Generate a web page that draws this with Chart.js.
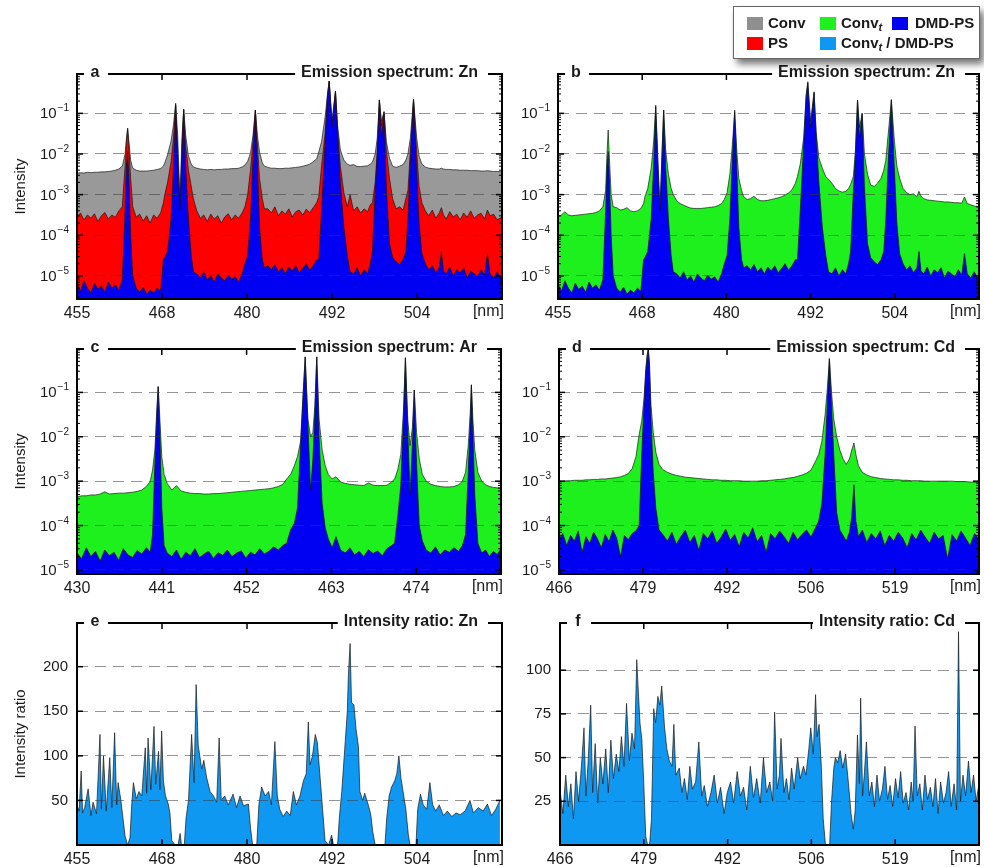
<!DOCTYPE html>
<html lang="en">
<head>
<meta charset="UTF-8">
<title>Emission spectra</title>
<style>
  body {
    margin: 0;
    width: 984px;
    height: 867px;
    position: relative;
    overflow: hidden;
    background: #fff;
    font-family: 'Liberation Sans', Arial, sans-serif;
  }
  canvas.panel { position: absolute; }
  .legend {
    position: absolute;
    left: 733px; top: 6px;
    width: 245px; height: 51px;
    background: #fff;
    border: 1px solid #666;
    box-shadow: 4px 5px 7px rgba(0,0,0,0.55);
    z-index: 5;
    color: #1a1a1a;
  }
  .sw { position: absolute; width: 16px; height: 13px; }
  .lt { position: absolute; font-weight: bold; font-size: 15px; line-height: 18px; white-space: nowrap; }
  .lt sub { font-size: 11px; font-style: italic; vertical-align: -3px; line-height: 0; }
</style>
</head>
<body>

<div class="legend">
  <span class="sw" style="left:13px;top:10px;background:#8f8f8f"></span><span class="lt" style="left:34px;top:7px">Conv</span>
  <span class="sw" style="left:86px;top:10px;background:#1ef01e"></span><span class="lt" style="left:107px;top:7px">Conv<sub>t</sub></span>
  <span class="sw" style="left:158px;top:10px;background:#0000f2"></span><span class="lt" style="left:181px;top:7px">DMD-PS</span>
  <span class="sw" style="left:13px;top:30px;background:#ff0000"></span><span class="lt" style="left:34px;top:27px">PS</span>
  <span class="sw" style="left:86px;top:30px;background:#0f98f2"></span><span class="lt" style="left:107px;top:27px">Conv<sub>t</sub> / DMD-PS</span>
</div>

<canvas id="cA" class="panel" width="512" height="262" style="left:0;top:60px"></canvas>
<canvas id="cB" class="panel" width="484" height="262" style="left:500px;top:60px"></canvas>
<canvas id="cC" class="panel" width="512" height="262" style="left:0;top:335px"></canvas>
<canvas id="cD" class="panel" width="484" height="262" style="left:500px;top:335px"></canvas>
<canvas id="cE" class="panel" width="512" height="262" style="left:0;top:605px"></canvas>
<canvas id="cF" class="panel" width="484" height="262" style="left:500px;top:605px"></canvas>

<script src="https://cdn.jsdelivr.net/npm/chart.js"></script>
<script>
// ---- Zn spectrum (panels a, b): wavelength in nm, intensities as log10 ----
const xZn = [455, 455.5, 456, 456.5, 457, 457.5, 458, 458.5, 459, 459.5, 460, 460.5, 461, 461.5,
  461.9, 462.1, 462.27, 462.45, 462.7, 463.0,
  463.5, 464, 464.5, 465, 465.5, 466, 466.5, 467, 467.4,
  467.6, 468.0, 468.5, 468.85, 469.16, 469.45, 469.78, 470.05, 470.31, 470.6, 471.0, 471.4, 471.7,
  472.2, 472.7, 473.2, 473.7, 474.2, 474.7, 475.2, 475.7, 476.2, 476.7, 477.2, 477.7, 478.2, 478.7, 479.1,
  479.5, 479.9, 480.25, 480.6, 480.9, 481.2, 481.6, 481.9,
  482.4, 482.9, 483.4, 483.9, 484.4, 484.9, 485.4, 485.9, 486.4, 486.9, 487.4, 487.9, 488.4, 488.9, 489.4,
  489.7, 490.1, 490.6, 490.95, 491.2, 491.6, 492.1, 492.4, 492.8, 493.3, 493.8,
  494.2, 494.7, 495.2, 495.7, 496.2, 496.7, 497.1,
  497.4, 497.8, 498.1, 498.4, 498.7, 499.07, 499.4, 499.85, 500.3,
  500.8, 501.3, 501.8, 502.2,
  502.5, 502.85, 503.3, 503.75, 504.1, 504.5,
  505, 505.5, 506, 506.5, 507, 507.3, 507.6, 508, 508.5, 509, 509.5, 510, 510.5, 511, 511.5, 512, 512.5, 513, 513.5, 513.9, 514.3, 514.8, 515.3, 516];

const convZn = [-2.47, -2.46, -2.47, -2.45, -2.46, -2.45, -2.45, -2.44, -2.44, -2.43, -2.42, -2.40, -2.37, -2.30,
  -2.0, -1.6, -1.37, -1.7, -2.15, -2.35,
  -2.40, -2.42, -2.42, -2.42, -2.41, -2.40, -2.38, -2.36, -2.30,
  -2.22, -2.02, -1.68, -1.28, -0.75, -1.55, -3.2, -1.65, -0.90, -1.55, -2.05, -2.25, -2.32,
  -2.35, -2.37, -2.38, -2.39, -2.38, -2.39, -2.38, -2.38, -2.37, -2.37, -2.36, -2.36, -2.35, -2.32, -2.27,
  -2.18, -1.98, -1.55, -0.92, -1.55, -1.95, -2.22, -2.30,
  -2.33, -2.35, -2.35, -2.36, -2.36, -2.35, -2.35, -2.34, -2.33, -2.32, -2.30, -2.28, -2.25, -2.19, -2.12,
  -1.95, -1.7, -1.1, -0.55, -0.2, -1.2, -0.45, -1.3, -1.9, -2.15, -2.25,
  -2.28, -2.26, -2.31, -2.31, -2.30, -2.29, -2.25,
  -2.2, -2.0, -1.6, -0.67, -1.2, -0.96, -1.7, -2.1, -2.3,
  -2.33, -2.30, -2.26, -2.15,
  -2.0, -1.6, -0.66, -1.6, -2.05, -2.25,
  -2.32, -2.35, -2.36, -2.37, -2.37, -2.35, -2.37, -2.38, -2.38, -2.39, -2.39, -2.40, -2.40, -2.40, -2.41, -2.41, -2.41, -2.42, -2.42, -2.41, -2.42, -2.43, -2.43, -2.44];

const psZn = [-3.55, -3.45, -3.62, -3.50, -3.58, -3.47, -3.66, -3.52, -3.44, -3.60, -3.50, -3.56, -3.40, -3.30,
  -2.3, -1.7, -1.37, -1.8, -2.6, -3.3,
  -3.55, -3.48, -3.65, -3.52, -3.70, -3.50, -3.58, -3.45, -3.20,
  -3.0, -2.7, -2.2, -1.6, -0.78, -1.9, -3.3, -1.9, -0.90, -1.8, -2.4, -2.8, -3.1,
  -3.40, -3.58, -3.50, -3.66, -3.48, -3.60, -3.52, -3.70, -3.55, -3.47, -3.62, -3.50, -3.58, -3.45, -3.30,
  -3.0, -2.4, -1.7, -0.92, -1.8, -2.6, -3.1, -3.35,
  -3.35, -3.45, -3.30, -3.52, -3.40, -3.48, -3.35, -3.55, -3.42, -3.38, -3.50, -3.36, -3.44, -3.32, -3.20,
  -3.05, -2.3, -1.5, -0.55, -0.2, -1.3, -0.45, -1.4, -2.3, -2.95, -3.3,
  -3.0, -3.40, -3.30, -3.45, -3.35, -3.42, -3.25,
  -3.2, -2.7, -1.9, -0.67, -1.3, -0.96, -1.9, -2.6, -3.1,
  -3.35, -3.30, -3.38, -3.1,
  -2.9, -1.9, -0.66, -1.9, -2.8, -3.2,
  -3.40, -3.52, -3.38, -3.58, -3.45, -3.32, -3.50, -3.60, -3.42, -3.55, -3.48, -3.62, -3.45, -3.56, -3.40, -3.58, -3.50, -3.46, -3.60, -3.38, -3.52, -3.48, -3.62, -3.55];

const dmdZn = [-5.20, -5.38, -5.12, -5.30, -5.42, -5.18, -5.33, -5.25, -5.40, -5.15, -5.30, -5.22, -5.35, -5.10,
  -3.4, -2.3, -1.94, -2.6, -4.0, -5.0,
  -5.30, -5.40, -5.28, -5.45, -5.35, -5.42, -5.30, -5.38, -4.60,
  -4.55, -4.40, -3.6, -2.3, -0.80, -2.2, -3.38, -2.2, -0.92, -2.3, -3.6, -4.5, -4.9,
  -4.95, -5.05, -4.90, -5.10, -5.00, -5.15, -4.95, -5.05, -5.12, -4.98, -5.08, -5.02, -5.15, -4.95, -4.70,
  -4.5, -3.6, -2.2, -0.92, -2.3, -3.8, -4.6, -4.8,
  -4.75, -4.85, -4.72, -4.90, -4.80, -4.95, -4.78, -4.88, -4.75, -4.92, -4.82, -4.70, -4.86, -4.75, -4.60,
  -4.6, -3.4, -1.75, -0.6, -0.22, -1.33, -0.47, -1.5, -2.7, -3.8, -4.5,
  -4.9, -4.95, -4.80, -5.0, -4.85, -4.95, -4.7,
  -4.4, -2.9, -2.0, -0.67, -1.6, -1.0, -2.8, -4.2, -4.55,
  -4.65, -4.72, -4.6, -4.4,
  -3.6, -2.2, -0.66, -2.4, -3.7, -4.45,
  -4.70, -4.85, -4.75, -4.92, -4.80, -4.40, -4.88, -4.95, -4.78, -5.00, -4.85, -4.92, -4.80, -5.05, -4.88, -4.95, -5.02, -4.85, -4.98, -4.45, -4.95, -5.05, -4.90, -5.10];

const convtZn = [-3.54, -3.50, -3.42, -3.50, -3.52, -3.51, -3.50, -3.49, -3.48, -3.47, -3.46, -3.44, -3.40, -3.30,
  -2.9, -2.0, -1.41, -2.1, -3.0, -3.3,
  -3.32, -3.38, -3.36, -3.32, -3.40, -3.42, -3.40, -3.34, -3.22,
  -3.05, -2.85, -2.35, -1.70, -0.84, -2.0, -3.38, -2.0, -0.92, -1.9, -2.5, -2.85, -3.0,
  -3.15, -3.22, -3.26, -3.30, -3.33, -3.34, -3.34, -3.34, -3.33, -3.32, -3.31, -3.30, -3.27, -3.22, -3.12,
  -2.95, -2.5, -1.8, -0.96, -1.9, -2.6, -2.9, -3.05,
  -3.12, -3.10, -3.04, -3.12, -3.15, -3.15, -3.14, -3.12, -3.10, -3.08, -3.05, -3.01, -2.96, -2.88, -2.72,
  -2.55, -2.25, -1.6, -0.55, -0.25, -1.2, -0.49, -1.45, -2.1, -2.35, -2.56,
  -2.62, -2.72, -2.85, -2.91, -2.94, -2.92, -2.85,
  -2.75, -2.55, -1.9, -0.67, -1.35, -1.0, -2.0, -2.5, -2.76,
  -2.8, -2.72, -2.6, -2.4,
  -2.15, -1.5, -0.67, -1.7, -2.3, -2.6,
  -2.85, -2.95, -3.0, -2.98, -3.05, -2.92, -3.04, -3.1, -3.13, -3.14, -3.15, -3.16, -3.17, -3.18, -3.18, -3.19, -3.2, -3.2, -3.21, -3.06, -3.22, -3.25, -3.28, -3.30];

// ---- Ar spectrum (panel c) ----
const xAr = [430, 430.6, 431.2, 431.8, 432.4, 433.0, 433.6, 434.2, 434.8, 435.4, 436.0, 436.6, 437.2, 437.8, 438.4, 439.0, 439.5,
  439.8, 440.1, 440.35, 440.53, 440.75, 441.0, 441.3,
  441.7, 442.3, 442.9, 443.5, 444.1, 444.7, 445.3, 445.9, 446.5, 447.1, 447.7, 448.3, 448.9, 449.5, 450.1, 450.7, 451.3, 451.9, 452.5, 453.1, 453.7, 454.3, 454.9, 455.5, 456.1, 456.7, 457.2,
  457.7, 458.2, 458.6, 459.0, 459.3, 459.6, 459.95, 460.3, 460.6, 460.85, 461.1, 461.4, 461.8, 462.2, 462.6,
  463.1, 463.6, 464.2, 464.8, 465.4, 466.0, 466.6, 467.2, 467.8, 468.4, 469.0, 469.6, 470.2, 470.8, 471.2,
  471.6, 472.0, 472.35, 472.6, 472.9, 473.2, 473.5, 473.75, 474.05, 474.4, 474.8,
  475.3, 475.9, 476.5, 477.1, 477.7, 478.3, 478.9, 479.5, 480.0,
  480.4, 480.75, 481.0, 481.16, 481.35, 481.6, 482.0,
  482.5, 483.0, 483.5, 484.0, 484.5, 485.0];

const convtAr = [-3.35, -3.33, -3.33, -3.31, -3.31, -3.29, -3.24, -3.29, -3.28, -3.27, -3.27, -3.26, -3.25, -3.23, -3.20, -3.12, -3.0,
  -2.75, -2.3, -1.4, -0.87, -1.6, -2.45, -2.85,
  -3.05, -3.2, -3.1, -3.22, -3.25, -3.27, -3.28, -3.28, -3.29, -3.29, -3.28, -3.28, -3.27, -3.26, -3.25, -3.24, -3.23, -3.22, -3.21, -3.20, -3.19, -3.18, -3.17, -3.15, -3.12, -3.07, -2.95,
  -2.85, -2.65, -2.45, -2.1, -1.1, -0.2, -1.6, -2.0, -1.9, -1.3, -0.2, -1.6, -2.3, -2.65, -2.85,
  -2.95, -2.9, -3.02, -3.05, -3.07, -3.08, -3.09, -3.10, -3.04, -3.09, -3.1, -3.1, -3.09, -3.02, -2.95,
  -2.75, -2.4, -1.4, -0.22, -1.6, -2.2, -1.8, -0.95, -1.9, -2.5, -2.85,
  -3.0, -3.07, -3.1, -3.12, -3.13, -3.13, -3.12, -3.08, -3.0,
  -2.8, -2.2, -1.5, -0.83, -1.6, -2.3, -2.8,
  -3.0, -3.08, -3.12, -3.14, -3.15, -3.16];

const dmdAr = [-4.62, -4.75, -4.50, -4.70, -4.58, -4.80, -4.55, -4.68, -4.60, -4.78, -4.52, -4.66, -4.72, -4.56, -4.64, -4.50, -4.60,
  -4.2, -2.6, -1.5, -0.87, -1.9, -3.6, -4.45,
  -4.62, -4.70, -4.55, -4.76, -4.60, -4.68, -4.52, -4.72, -4.64, -4.58, -4.74, -4.61, -4.67, -4.55, -4.70, -4.62, -4.57, -4.73, -4.60, -4.66, -4.52, -4.64, -4.58, -4.48, -4.55, -4.45, -4.40,
  -4.1, -3.95, -3.6, -2.2, -1.2, -0.2, -1.7, -3.2, -2.5, -1.5, -0.2, -2.0, -3.5, -4.05, -4.3,
  -4.50, -4.25, -4.55, -4.62, -4.50, -4.66, -4.58, -4.70, -4.54, -4.63, -4.57, -4.68, -4.52, -4.45, -4.40,
  -3.8, -3.1, -1.6, -0.22, -1.8, -3.3, -2.2, -0.95, -2.6, -4.0, -4.35,
  -4.55, -4.62, -4.48, -4.66, -4.55, -4.60, -4.50, -4.58, -4.45,
  -4.2, -2.8, -1.7, -0.83, -1.9, -3.3, -4.4,
  -4.62, -4.55, -4.70, -4.58, -4.65, -4.52];

// ---- Cd spectrum (panel d) ----
const xCd = [466.0, 466.6, 467.2, 467.8, 468.4, 469.0, 469.6, 470.2, 470.8, 471.4, 472.0, 472.6, 473.2, 473.8, 474.4, 475.0, 475.6, 476.2, 476.8, 477.4, 478.0, 478.5,
  478.9, 479.25, 479.55, 479.75, 479.92, 480.1, 480.35, 480.7, 481.1, 481.6,
  482.2, 482.9, 483.6, 484.3, 485.0, 485.7, 486.4, 487.1, 487.8, 488.5, 489.2, 489.9, 490.6, 491.3, 492.0, 492.7, 493.4, 494.1, 494.8, 495.5, 496.2, 496.9, 497.6, 498.3, 499.0, 499.7, 500.4, 501.1, 501.8, 502.5, 503.2, 503.9, 504.6, 505.3, 506.0,
  506.5, 507.0, 507.5, 507.85, 508.17, 508.5, 508.85, 509.3, 509.8,
  510.3, 510.8, 511.3,
  511.65, 512.0, 512.3,
  512.7, 513.3, 514.0, 514.7, 515.4, 516.1, 516.8, 517.5, 518.2, 518.9, 519.6, 520.3, 521.0, 521.7, 522.4, 523.1, 523.8, 524.5, 525.2, 525.9, 526.6, 527.3, 528.0, 528.7, 529.4, 530.1, 530.8, 531.5];

const convtCd = [-3.0, -3.0, -2.99, -2.99, -2.98, -2.98, -2.98, -2.97, -2.97, -2.96, -2.96, -2.95, -2.95, -2.94, -2.93, -2.92, -2.90, -2.87, -2.83, -2.72, -2.45, -1.95,
  -1.65, -1.15, -0.45, -0.15, -0.02, -0.3, -1.3, -1.9, -2.35, -2.62,
  -2.74, -2.8, -2.84, -2.87, -2.89, -2.91, -2.92, -2.93, -2.94, -2.95, -2.96, -2.97, -2.97, -2.98, -2.98, -2.99, -2.99, -2.99, -3.0, -3.0, -3.0, -3.0, -2.99, -2.99, -2.98, -2.97, -2.96, -2.95, -2.93, -2.92, -2.89, -2.86, -2.82, -2.75, -2.55,
  -2.4, -2.1, -1.5, -0.9, -0.24, -1.0, -1.6, -2.0, -2.3,
  -2.5, -2.62, -2.5,
  -2.3, -2.14, -2.4,
  -2.65, -2.8, -2.86, -2.9, -2.92, -2.94, -2.95, -2.96, -2.97, -2.97, -2.98, -2.98, -2.99, -2.99, -2.99, -3.0, -3.0, -3.0, -3.0, -3.0, -3.0, -3.0, -3.01, -3.01, -3.01, -3.02, -3.02, -3.02];

const dmdCd = [-4.30, -4.18, -4.45, -4.22, -4.35, -4.12, -4.60, -4.25, -4.40, -4.15, -4.30, -4.50, -4.20, -4.36, -4.10, -4.28, -4.70, -4.22, -4.32, -4.18, -4.12, -4.0,
  -2.4, -1.3, -0.5, -0.2, -0.02, -0.4, -1.6, -2.8, -3.6, -4.1,
  -4.20, -4.35, -4.15, -4.42, -4.25, -4.10, -4.38, -4.22, -4.55, -4.18, -4.30, -4.12, -4.40, -4.26, -4.08, -4.33, -4.20, -4.48, -4.15, -4.28, -4.05, -4.36, -4.22, -4.60, -4.18, -4.30, -4.12, -4.25, -4.40, -4.15, -4.32, -4.20, -4.10, -4.26, -4.05,
  -3.9, -3.5, -2.4, -1.2, -0.24, -1.3, -2.4, -3.7, -4.1,
  -4.22, -4.35, -4.15,
  -3.8, -3.08, -3.9,
  -4.25, -4.10, -4.38, -4.18, -4.30, -4.12, -4.45, -4.22, -4.35, -4.15, -4.28, -4.50, -4.18, -4.32, -4.10, -4.26, -4.40, -4.15, -4.30, -4.22, -4.75, -4.20, -4.35, -4.12, -4.28, -4.45, -4.18, -4.30];

// ---- intensity ratios Conv_t / DMD-PS (panels e, f) ----
const xRatioZn = [455.0, 455.3, 455.6, 455.8, 456.1, 456.6, 457.0, 457.3, 457.8, 458.3,
  458.5, 458.8, 459.2, 459.7, 460.0, 460.4, 460.7, 460.9, 461.3, 461.6,
  461.9, 462.27, 462.6, 462.85, 463.1, 463.5, 463.9, 464.3, 464.8, 465.0,
  465.2, 465.6, 466.05, 466.3, 466.7, 466.9, 467.15, 467.4, 467.7, 468.1,
  468.35, 468.6, 469.1, 469.5, 469.8, 470.0, 470.4, 470.65, 471.0, 471.45,
  471.8, 472.1, 472.4, 472.9, 473.2, 473.6, 474.1, 474.6, 475.05, 475.4,
  475.7, 476.2, 476.7, 477.4, 477.9, 478.4, 478.9, 479.6, 479.9, 480.2,
  480.8, 481.1, 481.5, 482.0, 482.5, 482.9, 483.4, 483.75, 484.1, 484.6,
  485.1, 485.6, 486.05, 486.5, 487.0, 487.5, 487.9, 488.2, 488.45, 488.8,
  489.2, 489.5, 489.9, 490.25, 490.6, 491.1, 491.55, 491.8, 492.4, 492.65,
  493.0, 493.5, 493.8, 493.95, 494.2, 494.4, 494.75, 495.05, 495.4, 495.6,
  496.0, 496.3, 496.8, 497.15, 497.45, 497.8, 499.2, 499.45, 499.8, 500.15,
  500.6, 500.9, 501.2, 501.5, 501.8, 502.2, 502.55, 502.8, 503.65, 503.9,
  504.3, 504.7, 505.2, 505.65, 506.05, 506.5, 507.0, 507.6, 508.15, 508.8,
  509.4, 510.0, 510.7, 511.4, 511.9, 512.6, 513.3, 513.9, 514.5, 515.1,
  515.7];

const ratioZn = [45, 38, 83, 36, 42, 63, 33, 48, 35, 124,
  40, 100, 38, 98, 42, 126, 45, 70, 50, 30,
  10, 0, 8, 45, 70, 52, 60, 55, 109, 58,
  120, 62, 133, 68, 105, 62, 128, 72, 55, 46,
  35, 5, 0, 0, 13, 0, 0, 30, 50, 124,
  70, 180, 112, 85, 95, 76, 60, 55, 48, 120,
  50, 55, 45, 57, 42, 55, 44, 46, 20, 0,
  0, 45, 65, 55, 60, 45, 116, 55, 40, 32,
  38, 33, 60, 45, 55, 72, 80, 138, 90, 100,
  124, 115, 75, 40, 5, 0, 11, 0, 0, 30,
  60, 116, 150, 190, 226, 160, 157, 130, 110, 60,
  50, 58, 45, 35, 15, 0, 0, 30, 55, 65,
  72, 80, 100, 75, 60, 40, 12, 0, 0, 40,
  57, 45, 40, 70, 45, 38, 45, 33, 38, 32,
  36, 34, 38, 50, 36, 42, 38, 46, 33, 40,
  50];

const xRatioCd = [466.05, 466.45, 466.9, 467.3, 467.7, 468.1, 468.5, 468.9, 469.35, 469.75,
  470.05, 470.4, 470.8, 471.1, 471.5, 471.9, 472.3, 472.7, 473.15, 473.55,
  473.95, 474.35, 474.8, 475.2, 475.6, 476.0, 476.4, 476.85, 477.25, 477.65,
  478.0, 478.2, 478.5, 478.8, 479.1, 479.4, 479.7, 480.0, 480.3, 480.65,
  480.95, 481.3, 481.6, 481.9, 482.35, 482.7, 483.1, 483.5, 483.8, 484.1,
  484.65, 485.05, 485.45, 485.9, 486.3, 486.7, 487.2, 487.7, 488.15, 488.55,
  489.05, 489.6, 490.1, 490.6, 491.1, 491.65, 492.15, 492.65, 493.15, 493.7,
  494.2, 494.7, 495.2, 495.75, 496.25, 496.75, 497.3, 497.8, 498.3, 498.8,
  499.25, 499.55, 499.95, 500.3, 500.55, 501.0, 501.4, 501.8, 502.2, 502.6,
  503.15, 503.55, 504.05, 504.45, 504.9, 505.2, 505.6, 505.95, 506.2, 506.5,
  506.85, 507.15, 507.5, 508.15, 508.45, 508.8, 509.05, 509.4, 509.8, 510.2,
  510.65, 511.1, 511.5, 511.85, 512.15, 512.5, 512.8, 513.0, 513.3, 513.6,
  513.9, 514.35, 514.75, 515.15, 515.55, 515.95, 516.4, 516.8, 517.2, 517.6,
  518.0, 518.45, 518.85, 519.25, 519.65, 520.1, 520.5, 520.9, 521.2, 521.5,
  521.85, 522.25, 522.65, 523.05, 523.45, 523.9, 524.3, 524.7, 525.1, 525.5,
  525.95, 526.35, 526.75, 527.15, 527.6, 528.0, 528.3, 528.6, 529.0, 529.4,
  529.85, 530.25, 530.65, 531.05, 531.5];

const ratioCd = [30, 18, 40, 22, 35, 15, 42, 25, 45, 67,
  28, 48, 80, 30, 58, 24, 50, 35, 55, 30,
  60, 38, 52, 42, 62, 45, 81, 48, 64, 55,
  106, 91, 70, 60, 35, 5, 0, 0, 15, 78,
  70, 85, 80, 91, 67, 55, 48, 45, 69, 40,
  44, 30, 38, 26, 45, 32, 36, 59, 28, 34,
  22, 30, 40, 24, 33, 18, 30, 36, 24, 42,
  28, 33, 20, 45, 27, 38, 24, 50, 30, 36,
  25, 76, 32, 40, 61, 30, 38, 26, 44, 32,
  50, 38, 45, 40, 55, 67, 52, 86, 62, 69,
  45, 15, 0, 0, 25, 44, 50, 47, 54, 44,
  52, 35, 18, 9, 20, 63, 35, 84, 28, 42,
  59, 28, 36, 22, 40, 25, 32, 45, 26, 34,
  22, 38, 27, 42, 24, 30, 20, 36, 25, 68,
  28, 35, 20, 40, 26, 33, 22, 38, 18, 36,
  24, 30, 42, 22, 35, 20, 122, 25, 40, 28,
  48, 30, 40, 25, 35];

// ---- axes ----
const ticksZn = [455, 467.2, 479.4, 491.6, 503.8, 516];
const labelsZn = ['455', '468', '480', '492', '504', '[nm]'];
const ticksAr = [430, 441, 452, 463, 474, 485];
const labelsAr = ['430', '441', '452', '463', '474', '[nm]'];
const ticksCd = [466, 479.1, 492.2, 505.3, 518.4, 531.5];
const labelsCd = ['466', '479', '492', '506', '519', '[nm]'];
const logTicks = [1e-5, 1e-4, 1e-3, 1e-2, 1e-1];
const ratioTicksZn = [50, 100, 150, 200];
const ratioTicksCd = [25, 50, 75, 100];

const FONT = "'Liberation Sans', Arial, sans-serif";
Chart.defaults.font.family = FONT;

const COL = { conv: '#999999', ps: '#ff0000', dmd: '#0000f2', convt: '#1ef01e', ratio: '#0f98f2' };

function series(xs, ys, color, log) {
  return {
    data: xs.map((x, i) => ({ x: x, y: log ? Math.pow(10, ys[i]) : ys[i] })),
    backgroundColor: color,
    borderColor: 'rgba(20,20,20,0.85)',
    borderWidth: 0.8,
    fill: 'start',
    pointRadius: 0,
    tension: 0
  };
}

// frame, inward ticks, log labels and the header drawn over the top edge
const frame = {
  id: 'frame',
  afterDraw(chart, args, o) {
    const { ctx, chartArea: a, scales: { x, y } } = chart;
    const seg = (x1, y1, x2, y2) => { ctx.beginPath(); ctx.moveTo(x1, y1); ctx.lineTo(x2, y2); ctx.stroke(); };
    ctx.save();
    ctx.strokeStyle = '#000';
    ctx.lineWidth = 1.5;
    x.ticks.forEach(t => {
      const p = x.getPixelForValue(t.value);
      seg(p, a.bottom, p, a.bottom - 6);
      seg(p, a.top, p, a.top + 6);
    });
    y.ticks.forEach(t => {
      const p = y.getPixelForValue(t.value);
      seg(a.left, p, a.left + 6, p);
      seg(a.right, p, a.right - 6, p);
    });
    ctx.fillStyle = '#1a1a1a';
    if (o.log) {
      ctx.lineWidth = 1;
      for (let e = -6; e <= 0; e++) {
        for (let m = 2; m <= 9; m++) {
          const v = m * Math.pow(10, e);
          if (v < y.min || v > y.max) continue;
          const p = y.getPixelForValue(v);
          seg(a.left, p, a.left + 3, p);
          seg(a.right, p, a.right - 3, p);
        }
      }
      ctx.textAlign = 'left';
      ctx.textBaseline = 'alphabetic';
      y.ticks.forEach(t => {
        const p = y.getPixelForValue(t.value);
        const ex = '\u2212' + Math.round(-Math.log10(t.value));
        ctx.font = '10px ' + FONT;
        const w2 = ctx.measureText(ex).width;
        ctx.font = '15px ' + FONT;
        const w1 = ctx.measureText('10').width;
        const r = a.left - 8;
        ctx.fillText('10', r - w2 - w1 - 1, p + 5);
        ctx.font = '10px ' + FONT;
        ctx.fillText(ex, r - w2, p - 2);
      });
    }
    ctx.lineWidth = 2;
    ctx.strokeRect(a.left, a.top, a.right - a.left, a.bottom - a.top);

    // header
    ctx.font = 'bold 16px ' + FONT;
    const tw = ctx.measureText(o.title).width;
    const tr = a.right - 24;
    ctx.fillStyle = '#fff';
    ctx.fillRect(a.left + 7, a.top - 3, 24, 10);
    ctx.fillRect(tr - tw - 6, a.top - 3, tw + 16, 10);
    ctx.fillStyle = '#1a1a1a';
    ctx.textBaseline = 'middle';
    ctx.textAlign = 'center';
    ctx.fillText(o.letter, a.left + 18, a.top - 1);
    ctx.textAlign = 'right';
    ctx.fillText(o.title, tr, a.top - 1);

    // unit label at the end of the x axis
    ctx.font = '16px ' + FONT;
    ctx.textBaseline = 'top';
    ctx.fillText('[nm]', a.right + 2, a.bottom + 5);

    if (o.yTitle) {
      ctx.font = '15px ' + FONT;
      ctx.translate(21, (a.top + a.bottom) / 2);
      ctx.rotate(-Math.PI / 2);
      ctx.textAlign = 'center';
      ctx.textBaseline = 'middle';
      ctx.fillText(o.yTitle, 0, 0);
    }
    ctx.restore();
  }
};

function panel(id, c) {
  const log = c.yType === 'logarithmic';
  return new Chart(document.getElementById(id), {
    type: 'line',
    data: { datasets: c.datasets },
    plugins: [frame],
    options: {
      responsive: false,
      animation: false,
      events: [],
      layout: { padding: { top: 14, right: c.padRight, left: 0, bottom: 0 } },
      plugins: {
        legend: { display: false },
        tooltip: { enabled: false },
        frame: { letter: c.letter, title: c.title, yTitle: c.yTitle, log: log }
      },
      scales: {
        x: {
          type: 'linear',
          min: c.xTicks[0],
          max: c.xTicks[c.xTicks.length - 1],
          grid: { display: false, drawTicks: false },
          border: { display: false },
          afterBuildTicks: s => { s.ticks = c.xTicks.map(v => ({ value: v })); },
          afterFit: s => { s.height = c.xH; },
          ticks: {
            autoSkip: false, maxRotation: 0, padding: 5, color: '#1a1a1a', font: { size: 16 },
            callback: (v, i) => (i === c.xLabels.length - 1 ? '' : c.xLabels[i])
          }
        },
        y: {
          type: c.yType,
          min: c.yMin,
          max: c.yMax,
          grid: { color: 'rgba(60,60,60,0.55)', lineWidth: 1, drawTicks: false, z: 1 },
          border: { display: false, dash: [11, 7] },
          afterBuildTicks: s => { s.ticks = c.yTicks.map(v => ({ value: v })); },
          afterFit: s => { s.width = c.yWidth; },
          ticks: { display: !log, padding: 9, color: '#1a1a1a', font: { size: 15 } }
        }
      }
    }
  });
}

// datasets listed top-most first
panel('cA', {
  datasets: [series(xZn, dmdZn, COL.dmd, true), series(xZn, psZn, COL.ps, true), series(xZn, convZn, COL.conv, true)],
  xTicks: ticksZn, xLabels: labelsZn, yType: 'logarithmic', yMin: 2.7e-6, yMax: 0.93, yTicks: logTicks,
  yWidth: 77, padRight: 10, xH: 23, letter: 'a', title: 'Emission spectrum: Zn', yTitle: 'Intensity'
});
panel('cB', {
  datasets: [series(xZn, dmdZn, COL.dmd, true), series(xZn, convtZn, COL.convt, true)],
  xTicks: ticksZn, xLabels: labelsZn, yType: 'logarithmic', yMin: 2.7e-6, yMax: 0.93, yTicks: logTicks,
  yWidth: 58, padRight: 3, xH: 23, letter: 'b', title: 'Emission spectrum: Zn'
});
panel('cC', {
  datasets: [series(xAr, dmdAr, COL.dmd, true), series(xAr, convtAr, COL.convt, true)],
  xTicks: ticksAr, xLabels: labelsAr, yType: 'logarithmic', yMin: 8.1e-6, yMax: 0.95, yTicks: logTicks,
  yWidth: 77, padRight: 11, xH: 23, letter: 'c', title: 'Emission spectrum: Ar', yTitle: 'Intensity'
});
panel('cD', {
  datasets: [series(xCd, dmdCd, COL.dmd, true), series(xCd, convtCd, COL.convt, true)],
  xTicks: ticksCd, xLabels: labelsCd, yType: 'logarithmic', yMin: 8.1e-6, yMax: 0.95, yTicks: logTicks,
  yWidth: 59, padRight: 3, xH: 23, letter: 'd', title: 'Emission spectrum: Cd'
});
panel('cE', {
  datasets: [series(xRatioZn, ratioZn, COL.ratio, false)],
  xTicks: ticksZn, xLabels: labelsZn, yType: 'linear', yMin: 0, yMax: 249, yTicks: ratioTicksZn,
  yWidth: 77, padRight: 10, xH: 22, letter: 'e', title: 'Intensity ratio: Zn', yTitle: 'Intensity ratio'
});
panel('cF', {
  datasets: [series(xRatioCd, ratioCd, COL.ratio, false)],
  xTicks: ticksCd, xLabels: labelsCd, yType: 'linear', yMin: 0, yMax: 127, yTicks: ratioTicksCd,
  yWidth: 60, padRight: 3, xH: 22, letter: 'f', title: 'Intensity ratio: Cd'
});
</script>
</body>
</html>
